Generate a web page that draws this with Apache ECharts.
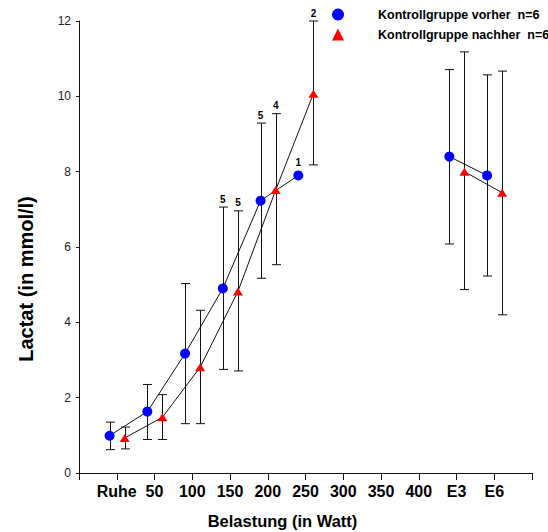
<!DOCTYPE html>
<html>
<head>
<meta charset="utf-8">
<script src="https://cdn.jsdelivr.net/npm/echarts@6/dist/echarts.min.js"></script>
<style>
  html, body { margin: 0; padding: 0; background: #fff; }
  #chart { width: 548px; height: 532px; }
</style>
</head>
<body>
<div id="chart"></div>
<script>
// ---- data ----
const xTickLabels = ['', 'Ruhe', '50', '100', '150', '200', '250', '300', '350', '400', 'E3', 'E6', ''];
const categoryPos = [1, 2, 3, 4, 5, 6, 10, 11]; // Ruhe,50,100,150,200,250,E3,E6
const yTicks = [0, 2, 4, 6, 8, 10, 12];

const vorherName = 'Kontrollgruppe vorher  n=6';
const vorherMean  = [0.99, 1.63, 3.17, 4.90, 7.23, 7.90, 8.40, 7.90];
const vorherUpper = [1.35, 2.35, 5.03, 7.06, 9.29, null, 10.71, 10.57];
const vorherLower = [0.62, 0.89, 1.31, 2.75, 5.17, null, 6.08, 5.23];
const vorherN     = ['', '', '', '5', '5', '1', '', ''];

const nachherName = 'Kontrollgruppe nachher  n=6';
const nachherMean  = [0.93, 1.48, 2.81, 4.82, 7.51, 10.07, 8.00, 7.44];
const nachherUpper = [1.22, 2.08, 4.32, 6.96, 9.54, 12.00, 11.18, 10.67];
const nachherLower = [0.64, 0.89, 1.31, 2.71, 5.53, 8.18, 4.87, 4.20];
const nachherN     = ['', '', '', '5', '4', '2', '', ''];

const segments = [[0, 6], [6, 8]]; // connected runs

// ---- styles ----
const FONT = '"Liberation Sans", Arial, sans-serif';
const offsetVorher = -0.19;
const offsetNachher = 0.21;

function points(mean, off) {
  return categoryPos.map((c, i) => [c + off, mean[i]]);
}

function lineSeries(name, mean, off, color, symbol, size) {
  const pts = points(mean, off);
  return segments.map(([a, b]) => ({
    name: name,
    type: 'line',
    data: pts.slice(a, b),
    symbol: symbol,
    symbolSize: size,
    showSymbol: true,
    itemStyle: { color: color, borderWidth: 0 },
    lineStyle: { color: '#111', width: 1 },
    z: 5,
    silent: true,
    animation: false
  }));
}

function errorSeries(mean, upper, lower, nLabels, off) {
  const data = categoryPos.map((c, i) => [c + off, mean[i],
    upper[i] == null ? NaN : upper[i], lower[i] == null ? NaN : lower[i], nLabels[i]]);
  return {
    type: 'custom',
    name: 'err',
    data: data,
    z: 3,
    silent: true,
    animation: false,
    encode: { x: 0, y: 1 },
    renderItem: function (params, api) {
      const x = api.value(0);
      const m = api.value(1);
      const up = api.value(2);
      const lo = api.value(3);
      const label = nLabels[params.dataIndex];
      const children = [];
      const style = { stroke: '#111', lineWidth: 1 };
      const hw = 4.5;
      let topY;
      if (!isNaN(up) && !isNaN(lo)) {
        const pu = api.coord([x, up]);
        const pl = api.coord([x, lo]);
        const px = Math.round(pu[0]) + 0.5;
        children.push({ type: 'line', shape: { x1: px, y1: pu[1], x2: px, y2: pl[1] }, style: style });
        children.push({ type: 'line', shape: { x1: px - hw, y1: pu[1], x2: px + hw, y2: pu[1] }, style: style });
        children.push({ type: 'line', shape: { x1: px - hw, y1: pl[1], x2: px + hw, y2: pl[1] }, style: style });
        topY = pu[1] - 8;
      } else {
        topY = api.coord([x, m])[1] - 13;
      }
      if (label) {
        const p = api.coord([x, m]);
        children.push({
          type: 'text',
          style: {
            text: label, x: p[0], y: topY,
            align: 'center', verticalAlign: 'middle',
            font: 'bold 10px ' + FONT, fill: '#000'
          }
        });
      }
      return { type: 'group', children: children };
    }
  };
}

const chart = echarts.init(document.getElementById('chart'), null, { renderer: 'svg' });

const option = {
  backgroundColor: '#fff',
  animation: false,
  grid: { left: 79, right: 16, top: 21, bottom: 59, containLabel: false },
  legend: {
    orient: 'vertical',
    left: 332,
    top: 8,
    padding: 0,
    itemWidth: 12,
    itemHeight: 12,
    itemGap: 7,
    selectedMode: false,
    data: [
      { name: vorherName, icon: 'circle' },
      { name: nachherName, icon: 'triangle' }
    ],
    textStyle: {
      fontFamily: FONT, fontWeight: 'bold', fontSize: 12.5, color: '#000',
      lineHeight: 12, padding: [0, 0, 0, 29]
    }
  },
  xAxis: {
    type: 'value',
    min: 0, max: 12, interval: 1,
    axisLine: { show: true, onZero: false, lineStyle: { color: '#111', width: 1 } },
    axisTick: { show: true, length: 7, lineStyle: { color: '#111' } },
    splitLine: { show: false },
    axisLabel: {
      margin: 10,
      fontFamily: FONT, fontWeight: 'bold', fontSize: 16, color: '#000',
      showMinLabel: true, showMaxLabel: true,
      formatter: function (v) { return xTickLabels[Math.round(v)] || ''; }
    }
  },
  yAxis: {
    type: 'value',
    min: yTicks[0], max: yTicks[yTicks.length - 1], interval: 2,
    axisLine: { show: true, lineStyle: { color: '#111', width: 1 } },
    axisTick: { show: true, length: 3, lineStyle: { color: '#111' } },
    splitLine: { show: false },
    axisLabel: {
      margin: 8,
      fontFamily: FONT, fontSize: 12, color: '#222'
    }
  },
  graphic: [
    {
      type: 'text', x: 282.5, y: 520.5,
      style: { text: 'Belastung (in Watt)', align: 'center', verticalAlign: 'middle',
        font: 'bold 16.5px ' + FONT, fill: '#000' }
    },
    {
      type: 'text', x: 26, y: 279, rotation: Math.PI / 2,
      style: { text: 'Lactat (in mmol/l)', align: 'center', verticalAlign: 'middle',
        font: 'bold 20px ' + FONT, fill: '#000' }
    }
  ],
  series: [
    errorSeries(vorherMean, vorherUpper, vorherLower, vorherN, offsetVorher),
    errorSeries(nachherMean, nachherUpper, nachherLower, nachherN, offsetNachher),
    ...lineSeries(vorherName, vorherMean, offsetVorher, '#0000ff', 'circle', 10),
    ...lineSeries(nachherName, nachherMean, offsetNachher, '#ff0000', 'triangle', [10, 8])
  ]
};
chart.setOption(option);
</script>
</body>
</html>
